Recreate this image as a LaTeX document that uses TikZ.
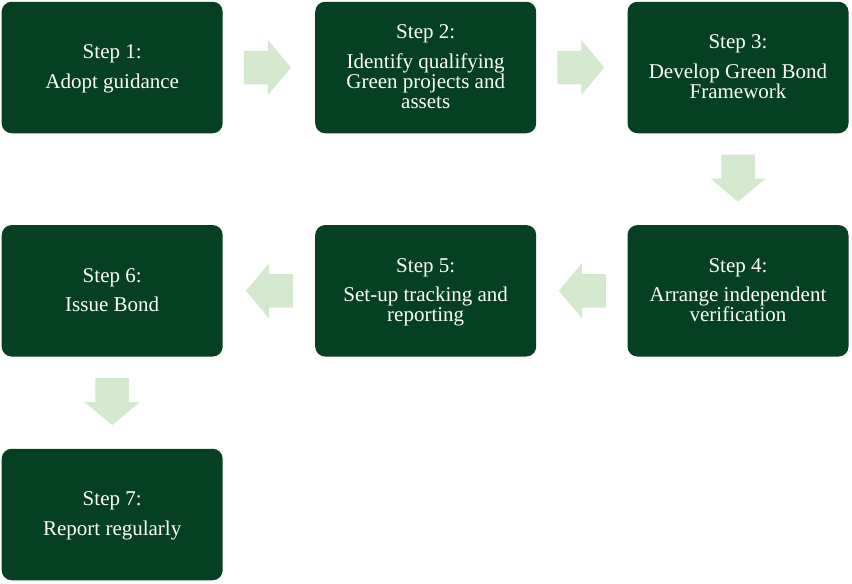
\documentclass[tikz,border=0pt]{standalone}
\usepackage{fontspec}
\setmainfont{Liberation Serif}
\usetikzlibrary{calc}
\definecolor{boxgreen}{RGB}{5,64,34}
\definecolor{arrowgreen}{RGB}{212,232,206}
\newcommand{\topstrut}{\rule{0pt}{17pt}}
\newcommand{\botstrut}{\rule[-5pt]{0pt}{5pt}}
\tikzset{
  stepbox/.style={rectangle, rounded corners=10pt, fill=boxgreen, text=white,
    minimum width=221pt, minimum height=131.5pt, inner sep=0pt, align=center,
    font=\fontsize{21}{20}\selectfont},
  barrow/.pic={\fill[arrowgreen] (-23.5,-16.75) -- (0.5,-16.75) -- (0.5,-27.5) -- (23.5,0)
    -- (0.5,27.5) -- (0.5,16.75) -- (-23.5,16.75) -- cycle;}
}
\begin{document}
\begin{tikzpicture}[x=1pt,y=-1pt]
\useasboundingbox (0,0) rectangle (852,584);
\node[stepbox] (s1) at (112.2,67.5) {\topstrut Step 1:\\[9.5pt]Adopt guidance\botstrut};
\node[stepbox] (s2) at (425.7,67.5) {\topstrut Step 2:\\[9.5pt]Identify qualifying\\Green projects and\\assets\botstrut};
\node[stepbox] (s3) at (738,67.5) {\topstrut Step 3:\\[9.5pt]Develop Green Bond\\Framework\botstrut};
\node[stepbox] (s4) at (738,290.8) {\topstrut Step 4:\\[9.5pt]Arrange independent\\verification\botstrut};
\node[stepbox] (s5) at (425.7,290.8) {\topstrut Step 5:\\[9.5pt]Set-up tracking and\\reporting\botstrut};
\node[stepbox] (s6) at (112.2,290.8) {\topstrut Step 6:\\[9.5pt]Issue Bond\botstrut};
\node[stepbox] (s7) at (112.2,514.5) {\topstrut Step 7:\\[9.5pt]Report regularly\botstrut};
\path ($(s1.east)!0.5!(s2.west)+(-1.5,0)$) pic {barrow};
\path ($(s2.east)!0.5!(s3.west)+(-1,0)$) pic {barrow};
\path ($(s3.south)!0.5!(s4.north)+(0,-1)$) pic[rotate=-90] {barrow};
\path ($(s4.west)!0.5!(s5.east)+(0.5,0)$) pic[rotate=180] {barrow};
\path ($(s5.west)!0.5!(s6.east)+(0.5,0)$) pic[rotate=180] {barrow};
\path ($(s6.south)!0.5!(s7.north)+(0,-1)$) pic[rotate=-90] {barrow};
\end{tikzpicture}
\end{document}
